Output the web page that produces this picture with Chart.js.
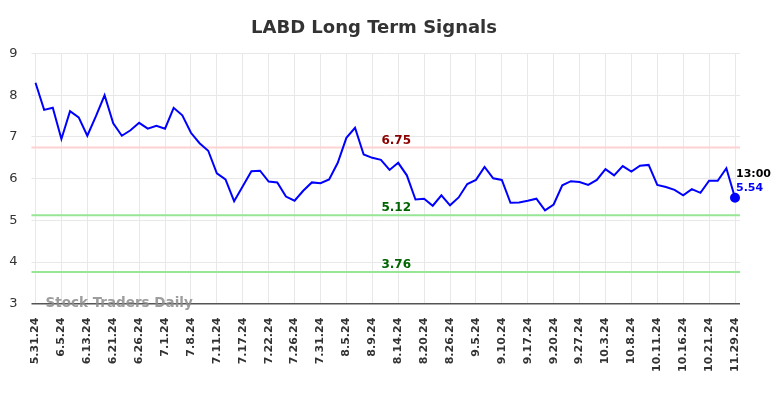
<!DOCTYPE html>
<html>
<head>
<meta charset="utf-8">
<script src="https://cdn.jsdelivr.net/npm/chart.js@4/dist/chart.umd.min.js"></script>
<style>
  html, body { margin: 0; padding: 0; background: #fff; }
  #wrap { width: 784px; height: 398px; }
</style>
</head>
<body>
<div id="wrap"><canvas id="chart"></canvas></div>
<script>
// tick labels, one every 3 sessions
const tickDates = ['5.31.24', '6.5.24', '6.13.24', '6.21.24', '6.26.24', '7.1.24', '7.8.24',
    '7.11.24', '7.17.24', '7.22.24', '7.26.24', '7.31.24', '8.5.24', '8.9.24', '8.14.24',
    '8.20.24', '8.26.24', '9.5.24', '9.10.24', '9.17.24', '9.20.24', '9.27.24', '10.3.24',
    '10.8.24', '10.11.24', '10.16.24', '10.21.24', '11.29.24'];

// closing prices
const closes = [8.30, 7.65, 7.70, 6.95, 7.62, 7.47, 7.03, 7.50, 8.00, 7.33,
    7.03, 7.16, 7.34, 7.20, 7.27, 7.20, 7.70, 7.52, 7.10, 6.85,
    6.67, 6.13, 5.98, 5.46, 5.82, 6.18, 6.19, 5.93, 5.91, 5.57,
    5.47, 5.71, 5.91, 5.89, 5.98, 6.38, 6.98, 7.22, 6.58, 6.50,
    6.45, 6.21, 6.38, 6.08, 5.50, 5.52, 5.35, 5.60, 5.36, 5.55,
    5.87, 5.97, 6.28, 6.01, 5.97, 5.42, 5.43, 5.47, 5.52, 5.24,
    5.38, 5.84, 5.94, 5.92, 5.85, 5.97, 6.23, 6.08, 6.30, 6.17,
    6.31, 6.33, 5.85, 5.80, 5.73, 5.60, 5.75, 5.66, 5.95, 5.95,
    6.25, 5.54];

// signal levels
const levels = [6.75, 5.12, 3.76];
const levelLineColors = ['#ffd2d2', '#96e696', '#96e696'];
const levelTextColors = ['#8b0000', '#006400', '#006400'];

const lastTime = '13:00';
const yTicks = [3, 4, 5, 6, 7, 8, 9];

const labels = closes.map((_, i) => (i % 3 === 0 ? tickDates[i / 3] : ''));
const FONT = '"DejaVu Sans", sans-serif';

// level lines, labels, last value and watermark
const overlay = {
    id: 'overlay',
    beforeDatasetsDraw(chart) {
        const { ctx, chartArea } = chart;
        const y = chart.scales.y;
        ctx.save();
        levels.forEach((lv, i) => {
            const py = y.getPixelForValue(lv);
            ctx.strokeStyle = levelLineColors[i];
            ctx.lineWidth = 2;
            ctx.beginPath();
            ctx.moveTo(chartArea.left - 4, py);
            ctx.lineTo(chartArea.right + 5, py);
            ctx.stroke();
        });
        // bottom axis line, a bit wider than the plot
        ctx.strokeStyle = '#555';
        ctx.lineWidth = 1.5;
        ctx.beginPath();
        ctx.moveTo(chartArea.left - 4, chartArea.bottom);
        ctx.lineTo(chartArea.right + 5, chartArea.bottom);
        ctx.stroke();
        ctx.restore();
    },
    afterDatasetsDraw(chart) {
        const { ctx, chartArea } = chart;
        const x = chart.scales.x;
        const y = chart.scales.y;
        ctx.save();
        ctx.textBaseline = 'middle';
        ctx.textAlign = 'center';
        ctx.font = 'bold 12px ' + FONT;
        const midX = x.getPixelForValue(42) - 2;
        levels.forEach((lv, i) => {
            ctx.fillStyle = levelTextColors[i];
            ctx.fillText(lv.toFixed(2), midX, y.getPixelForValue(lv) - 7);
        });

        const last = closes.length - 1;
        const lx = x.getPixelForValue(last);
        const ly = y.getPixelForValue(closes[last]);
        ctx.textAlign = 'left';
        ctx.font = 'bold 11px ' + FONT;
        ctx.fillStyle = '#000';
        ctx.fillText(lastTime, lx + 1, ly - 24);
        ctx.fillStyle = '#0000ff';
        ctx.fillText(closes[last].toFixed(2), lx + 1, ly - 10);

        ctx.font = 'bold 13.5px ' + FONT;
        ctx.fillStyle = 'rgba(140,140,140,0.85)';
        ctx.fillText('Stock Traders Daily', chartArea.left + 10, chartArea.bottom);
        ctx.restore();
    }
};

new Chart(document.getElementById('chart'), {
    type: 'line',
    data: {
        labels: labels,
        datasets: [{
            data: closes,
            borderColor: '#0000ff',
            backgroundColor: '#0000ff',
            borderWidth: 2,
            tension: 0,
            pointRadius: closes.map((_, i) => (i === closes.length - 1 ? 4 : 0)),
            pointHoverRadius: 0
        }]
    },
    options: {
        responsive: true,
        maintainAspectRatio: false,
        animation: false,
        events: [],
        layout: { padding: { left: 8, right: 44, bottom: 12 } },
        plugins: {
            legend: { display: false },
            tooltip: { enabled: false },
            title: {
                display: true,
                text: 'LABD Long Term Signals',
                color: '#333',
                font: { family: FONT, size: 18, weight: 'bold' },
                padding: { top: 18, bottom: 14 }
            }
        },
        scales: {
            x: {
                grid: { color: '#e8e8e8', lineWidth: 1, drawTicks: false },
                border: { display: false },
                ticks: {
                    autoSkip: false,
                    maxRotation: 90,
                    minRotation: 90,
                    padding: 14,
                    color: '#333',
                    font: { family: FONT, size: 11, weight: 'bold' },
                    callback: (v, i) => (i % 3 === 0 ? tickDates[i / 3] : null)
                }
            },
            y: {
                min: yTicks[0],
                max: yTicks[yTicks.length - 1],
                afterBuildTicks: s => { s.ticks = yTicks.map(v => ({ value: v })); },
                afterFit: s => { s.width = 27.5; },
                grid: { color: '#e8e8e8', lineWidth: 1, tickLength: 4 },
                border: { display: false },
                ticks: {
                    padding: 14,
                    color: '#333',
                    font: { family: FONT, size: 13 }
                }
            },
            y2: {
                position: 'right',
                min: yTicks[0],
                max: yTicks[yTicks.length - 1],
                afterBuildTicks: s => { s.ticks = yTicks.map(v => ({ value: v })); },
                grid: { color: '#e8e8e8', lineWidth: 1, tickLength: 5, drawOnChartArea: false },
                border: { display: false },
                ticks: { display: false }
            }
        }
    },
    plugins: [overlay]
});
</script>
</body>
</html>
